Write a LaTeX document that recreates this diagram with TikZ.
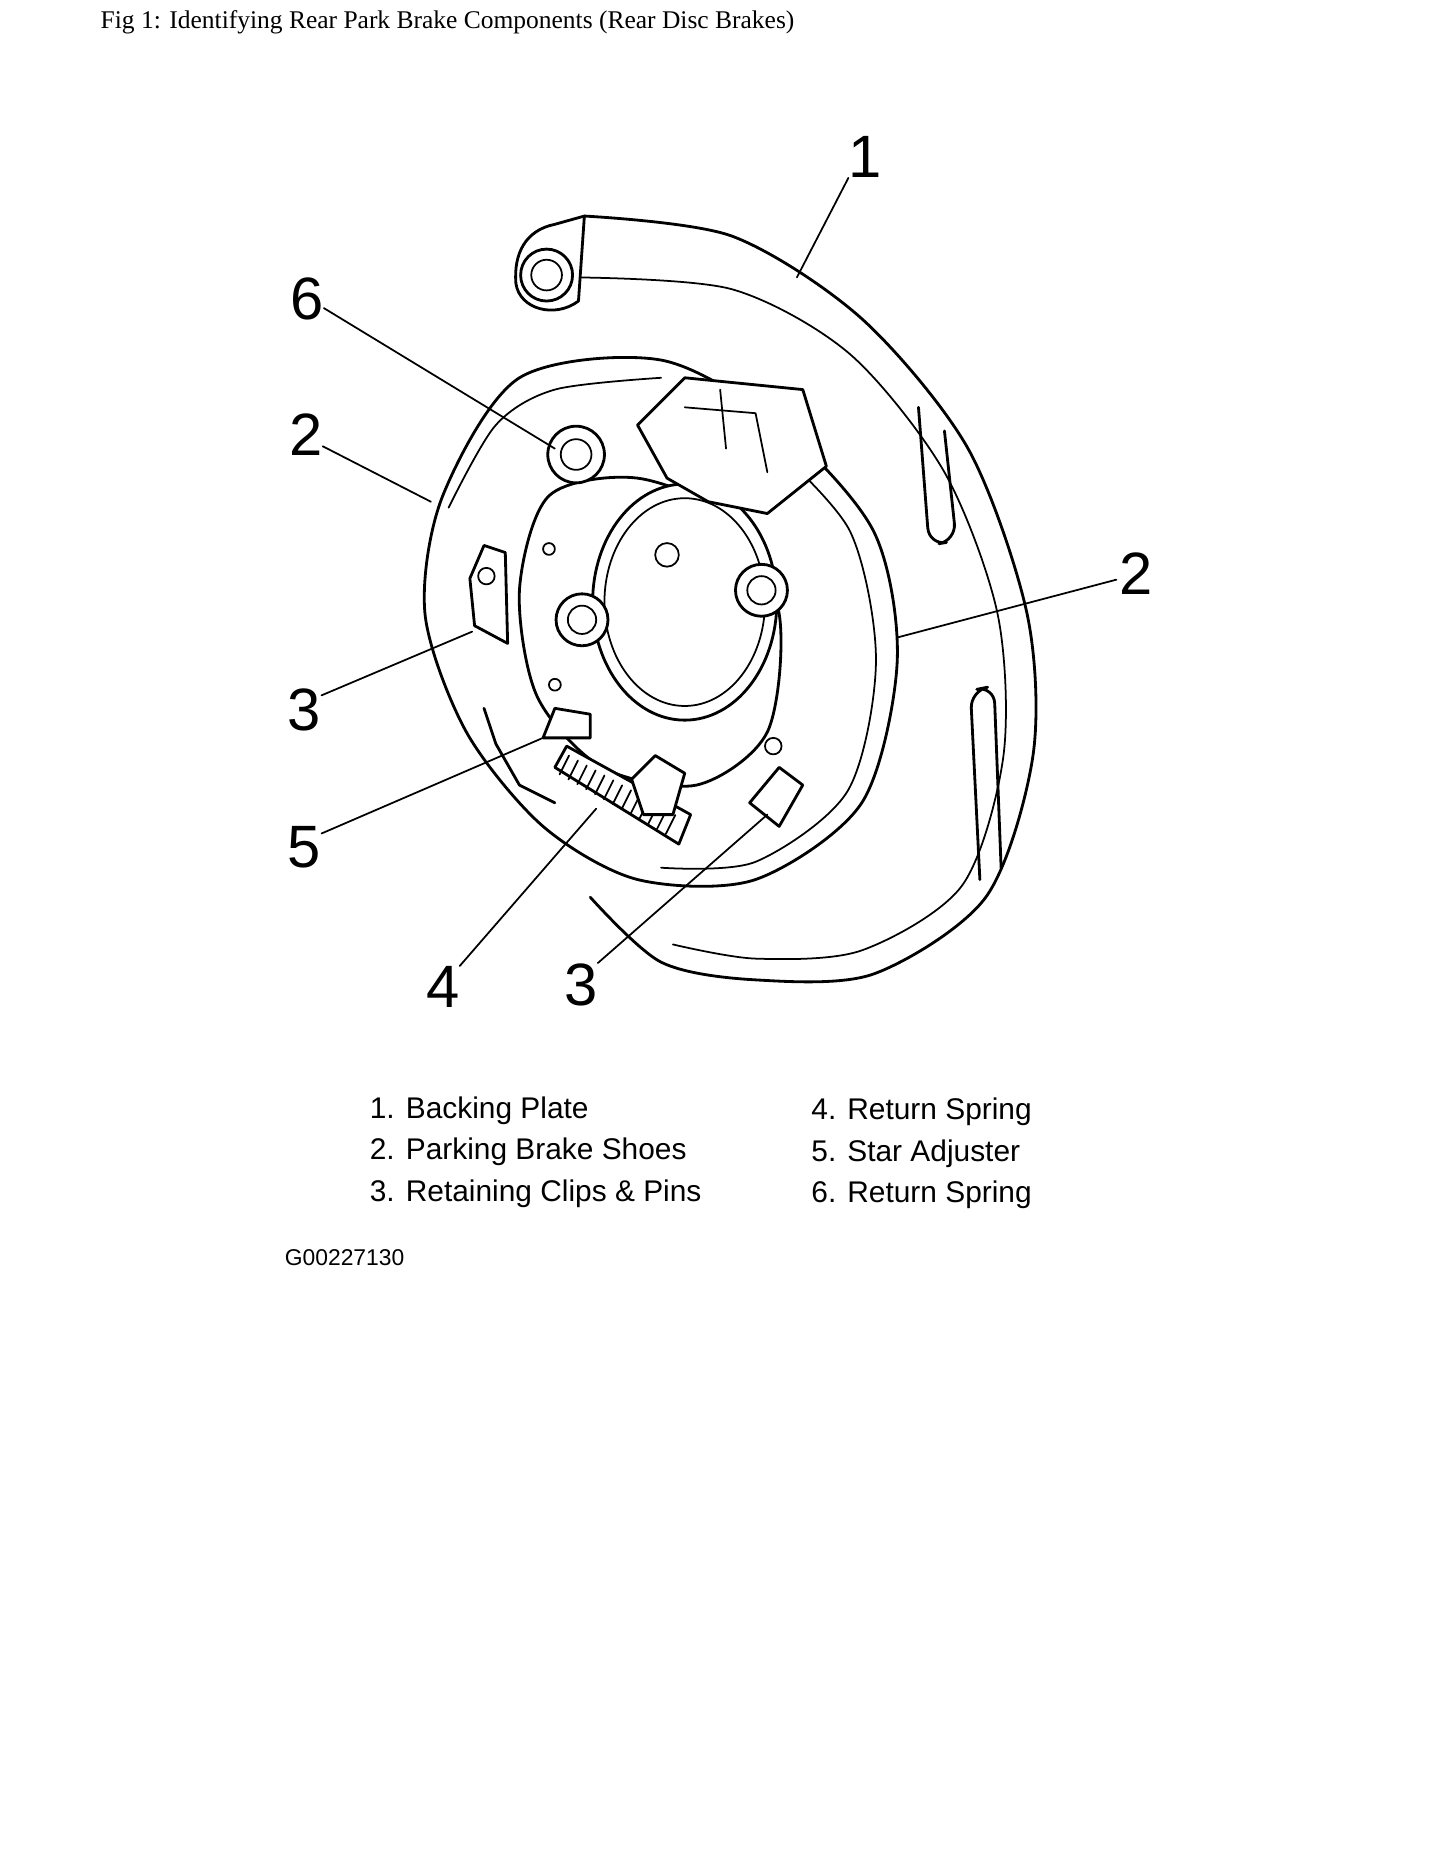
\documentclass[tikz,border=0pt]{standalone}
\usepackage{fontspec}
\setmainfont{Liberation Serif}
\setsansfont{Liberation Sans}
\begin{document}
\begin{tikzpicture}[x=0.023612cm,y=-0.023612cm,
  num/.style={font=\sffamily\fontsize{34}{36}\selectfont,inner sep=0pt},
  leg/.style={font=\sffamily\fontsize{17}{18}\selectfont,anchor=west,inner sep=0pt},
  ln/.style={line width=1.6pt,line join=round,line cap=round},
  thin/.style={line width=1pt,line join=round,line cap=round}]
\useasboundingbox (0,0) rectangle (1224,1584);
\node[anchor=north west,inner sep=0pt,font=\fontsize{14.5}{16}\selectfont] (title) at (85,9) {Fig 1: Identifying Rear Park Brake Components (Rear Disc Brakes)};
% backing plate
\draw[ln,fill=white] plot[smooth] coordinates {(495,183) (620,200) (730,270) (820,380) (870,520) (875,640) (835,760) (740,825) (640,830) (560,815) (500,760)};
\draw[thin] plot[smooth] coordinates {(490,235) (620,245) (720,300) (800,400) (845,520) (850,640) (815,750) (730,805) (640,812) (570,800)};
\draw[ln,fill=white] (495,183) -- (470,190) .. controls (445,195) and (435,215) .. (437,240) .. controls (440,262) and (470,270) .. (490,255) -- cycle;
\draw[ln] (463,233) circle[radius=22];
\draw[thin] (463,233) circle[radius=13];
\draw[ln,rounded corners=10] (778,345) -- (787,462) -- (810,458) -- (800,365);
\draw[ln,rounded corners=10] (830,745) -- (822,585) -- (842,581) -- (848,735);
% shoe assembly
\draw[ln,fill=white] plot[smooth cycle] coordinates {(440,320) (560,305) (660,360) (740,450) (760,560) (730,680) (640,745) (540,745) (460,700) (395,620) (360,520) (375,420)};
\draw[thin] plot[smooth] coordinates {(380,430) (420,360) (470,330) (560,320)};
\draw[thin] plot[smooth] coordinates {(652,375) (720,450) (742,560) (718,670) (640,730) (560,735)};
\draw[ln,fill=white] plot[smooth cycle] coordinates {(465,420) (540,405) (620,440) (660,520) (650,620) (590,665) (510,650) (455,590) (440,500)};
\draw[ln,fill=white] (580,510) ellipse[x radius=78,y radius=100];
\draw[thin] (580,510) ellipse[x radius=68,y radius=88];
\draw[thin] (565,470) circle[radius=10];
\draw[ln,fill=white] (493,525) circle[radius=22];
\draw[thin] (493,525) circle[radius=12];
\draw[thin] (465,465) circle[radius=5];
\draw[thin] (470,580) circle[radius=5];
% top components
\draw[ln,fill=white] (540,360) -- (580,320) -- (680,330) -- (700,395) -- (650,435) -- (600,425) -- (565,405) -- cycle;
\draw[thin] (580,345) -- (640,350) -- (650,400);
\draw[thin] (610,330) -- (615,380);
\draw[ln,fill=white] (488,385) circle[radius=24];
\draw[thin] (488,385) circle[radius=13];
\draw[ln,fill=white] (645,500) circle[radius=22];
\draw[thin] (645,500) circle[radius=12];
% clip left
\draw[ln,fill=white] (398,490) -- (410,462) -- (428,468) -- (430,545) -- (402,530) -- cycle;
\draw[thin] (412,488) circle[radius=7];
% lower components
\draw[ln,fill=white] (460,625) -- (470,600) -- (500,605) -- (500,625) -- cycle;
\draw[ln,fill=white] (470,650) -- (480,632) -- (585,690) -- (575,715) -- cycle;
\foreach \t in {0,...,12} \draw[thin] ({482+7.5*\t},{640+4.2*\t}) -- ({474+7.5*\t},{656+4.2*\t});
\draw[ln,fill=white] (535,660) -- (555,640) -- (580,655) -- (570,690) -- (545,690) -- cycle;
\draw[ln,fill=white] (635,680) -- (660,650) -- (680,665) -- (660,700) -- cycle;
\draw[thin] (655,632) circle[radius=7];
\draw[ln] (410,600) -- (420,630) -- (440,665) -- (470,680);
% labels
\node[num] (n1) at (733,133) {1};
\node[num] (n6) at (260,253) {6};
\node[num] (n2a) at (259,368) {2};
\node[num] (n2b) at (962,486) {2};
\node[num] (n3a) at (258,601) {3};
\node[num] (n5) at (258,718) {5};
\node[num] (n4) at (375,836) {4};
\node[num] (n3b) at (492,834) {3};
\coordinate (t1) at (675,235);
\coordinate (t6) at (470,380);
\coordinate (t2a) at (365,425);
\coordinate (t2b) at (760,540);
\coordinate (t3a) at (400,535);
\coordinate (t5) at (460,625);
\coordinate (t4) at (505,685);
\coordinate (t3b) at (650,690);
\draw[thin] (n1.south west) -- (t1);
\draw[thin] (n6.east) ++(0,8) -- (t6);
\draw[thin] (n2a.east) ++(0,10) -- (t2a);
\draw[thin] (n2b.west) ++(-2,5) -- (t2b);
\draw[thin] (n3a.east) ++(0,-12) -- (t3a);
\draw[thin] (n5.east) ++(0,-12) -- (t5);
\draw[thin] (n4.north east) -- (t4);
\draw[thin] (n3b.north east) -- (t3b);
% legend
\node[leg] (l1) at (313,941) {1. Backing Plate};
\node[leg] (l2) at (313,976) {2. Parking Brake Shoes};
\node[leg] (l3) at (313,1011) {3. Retaining Clips \& Pins};
\node[leg] (l4) at (687,942) {4. Return Spring};
\node[leg] (l5) at (687,977) {5. Star Adjuster};
\node[leg] (l6) at (687,1012) {6. Return Spring};
\node[anchor=west,inner sep=0pt,font=\sffamily\fontsize{13}{15}\selectfont] (code) at (241,1065) {G00227130};
\end{tikzpicture}
\end{document}
